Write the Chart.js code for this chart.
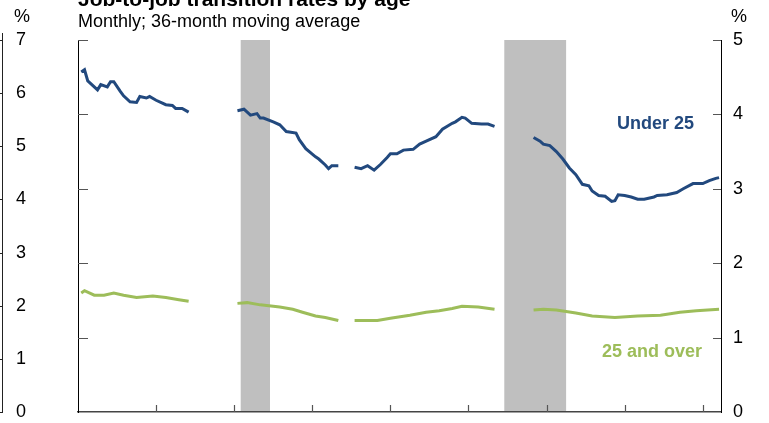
<!DOCTYPE html>
<html>
<head>
<meta charset="utf-8">
<script src="https://cdn.jsdelivr.net/npm/chart.js@4.4.0/dist/chart.umd.min.js"></script>
<style>
  html, body { margin: 0; padding: 0; background: #fff; }
  canvas { display: block; }
</style>
</head>
<body>
<canvas id="jobChart" width="769" height="423"></canvas>
<script>
// ---------- Data ----------
var titleText = "Job-to-job transition rates by age";
var subtitleText = "Monthly; 36-month moving average";

var under25Months = ["1997-02","1997-03","1997-04","1997-07","1997-08","1997-10","1997-11","1997-12",
    "1998-02","1998-03","1998-05","1998-07","1998-08","1998-10","1998-11",
    "1999-01","1999-04","1999-06","1999-07","1999-09","1999-11","2000-06",
    "2001-02","2001-04","2001-06","2001-08","2001-09","2001-10",
    "2002-01","2002-03","2002-05","2002-08","2002-09","2002-11",
    "2003-02","2003-03","2003-05","2003-06","2003-07","2003-09","2003-12",
    "2004-02","2004-04","2004-06","2004-08","2004-10","2004-12",
    "2005-01","2005-03","2005-05","2005-08","2005-10","2005-12",
    "2006-03","2006-05","2006-08","2006-09","2006-11","2006-12",
    "2007-02","2007-05","2007-07","2007-09","2008-03",
    "2008-09","2008-11","2008-12",
    "2009-02","2009-04","2009-06","2009-08","2009-10","2009-12",
    "2010-02","2010-03","2010-05","2010-07","2010-09","2010-10","2010-11",
    "2011-01","2011-03","2011-05","2011-07","2011-10","2011-11",
    "2012-02","2012-05","2012-07","2012-10",
    "2013-01","2013-03","2013-05","2013-06"];
var under25Values = [4.57,4.60,4.45,4.33,4.40,4.37,4.44,4.44,
    4.31,4.25,4.17,4.16,4.24,4.22,4.24,
    4.19,4.13,4.12,4.08,4.08,4.03,null,
    4.05,4.07,3.99,4.01,3.95,3.95,
    3.90,3.86,3.77,3.75,3.66,3.54,
    3.43,3.40,3.32,3.27,3.31,3.31,null,
    3.29,3.27,3.31,3.25,3.33,3.42,
    3.47,3.47,3.52,3.53,3.60,3.64,
    3.70,3.80,3.88,3.90,3.96,3.95,
    3.88,3.87,3.87,3.84,null,
    3.69,3.64,3.60,
    3.58,3.50,3.40,3.28,3.19,3.06,
    3.04,2.97,2.91,2.90,2.83,2.84,2.92,
    2.91,2.89,2.86,2.86,2.89,2.91,
    2.92,2.95,3.00,3.07,
    3.07,3.11,3.14,3.15];

var over25Months = ["1997-02","1997-03","1997-06","1997-09","1997-12","1998-03","1998-07","1998-12",
    "1999-04","1999-08","1999-11","2000-06",
    "2001-02","2001-05","2001-09","2002-03","2002-07","2002-10","2003-02","2003-05","2003-09","2003-12",
    "2004-02","2004-09","2005-01","2005-07","2005-12","2006-04","2006-08","2006-11","2007-04","2007-09","2008-03",
    "2008-09","2008-12","2009-04","2009-10","2010-03","2010-10","2011-05","2011-12","2012-06","2012-11","2013-06"];
var over25Values = [1.60,1.63,1.57,1.57,1.60,1.57,1.54,1.56,
    1.54,1.51,1.49,null,
    1.46,1.47,1.44,1.41,1.38,1.34,1.29,1.27,1.23,null,
    1.23,1.23,1.26,1.30,1.34,1.36,1.39,1.42,1.41,1.38,null,
    1.37,1.38,1.37,1.33,1.29,1.27,1.29,1.30,1.34,1.36,1.38];

// recession periods (first and last month)
var recessions = [["2001-03", "2001-11"], ["2007-12", "2009-06"]];

var rightTickLabels = ["0", "1", "2", "3", "4", "5"];
var leftTickLabels = ["0", "1", "2", "3", "4", "5", "6", "7"];

var startYear = 1997;
var endMonthIndex = 197.6;

var BLUE = "#22497e";
var GREEN = "#9dbd5a";
var FONT = "'Liberation Sans', Arial, sans-serif";

// months since Jan 1997
function monthIndex(s) {
    var p = s.split("-");
    return (parseInt(p[0], 10) - startYear) * 12 + (parseInt(p[1], 10) - 1);
}

function toPoints(months, values) {
    return months.map(function (m, i) {
        return { x: monthIndex(m), y: values[i] };
    });
}

// keep the y axes from reserving extra room for their end labels
function fixAxis(width) {
    return function (s) {
        s.width = width;
        s.paddingTop = 0;
        s.paddingBottom = 0;
    };
}

// ---------- Extra drawing: shading, inward ticks, texts ----------
var decorPlugin = {
    id: "decor",
    beforeDraw: function (chart) {
        var ctx = chart.ctx;
        var area = chart.chartArea;
        var xs = chart.scales.x;
        ctx.save();
        ctx.fillStyle = "#fff";
        ctx.fillRect(0, 0, chart.width, chart.height);
        ctx.fillStyle = "#bfbfbf";
        recessions.forEach(function (r) {
            var x0 = xs.getPixelForValue(monthIndex(r[0]));
            var x1 = xs.getPixelForValue(monthIndex(r[1]) + 1);
            ctx.fillRect(x0, area.top, x1 - x0, area.bottom - area.top);
        });
        ctx.restore();
    },
    afterDraw: function (chart) {
        var ctx = chart.ctx;
        var area = chart.chartArea;
        var xs = chart.scales.x;
        var yr = chart.scales.y;
        var yl = chart.scales.yLeft;
        ctx.save();

        // inward tick marks
        ctx.strokeStyle = "#555";
        ctx.lineWidth = 1.2;
        ctx.beginPath();
        yr.ticks.forEach(function (t) {
            if (t.value === 0) return;
            var py = Math.round(yr.getPixelForValue(t.value)) + 0.5;
            ctx.moveTo(area.left, py);
            ctx.lineTo(area.left + 10, py);
            ctx.moveTo(area.right - 8, py);
            ctx.lineTo(area.right, py);
        });
        xs.ticks.forEach(function (t) {
            if (t.value <= 0) return;
            var px = Math.round(xs.getPixelForValue(t.value)) + 0.5;
            ctx.moveTo(px, area.bottom);
            ctx.lineTo(px, area.bottom - 7);
        });
        ctx.stroke();

        // edge of the neighbouring panel on the far left
        ctx.strokeStyle = "#222";
        ctx.lineWidth = 1;
        ctx.beginPath();
        ctx.moveTo(2.5, area.top - 7);
        ctx.lineTo(2.5, area.bottom + 1);
        yl.ticks.forEach(function (t) {
            var py = Math.round(yl.getPixelForValue(t.value)) + 0.5;
            ctx.moveTo(0, py);
            ctx.lineTo(2.5, py);
        });
        ctx.stroke();

        // title and subtitle
        ctx.fillStyle = "#000";
        ctx.textBaseline = "alphabetic";
        ctx.textAlign = "left";
        ctx.font = "bold 21px " + FONT;
        ctx.fillText(titleText, 78, 6);
        ctx.font = "18px " + FONT;
        ctx.fillText(subtitleText, 78, 27);

        // % units
        ctx.textAlign = "center";
        ctx.textBaseline = "middle";
        ctx.font = "18px " + FONT;
        ctx.fillText("%", 22, 17);
        ctx.fillText("%", 739, 17);

        // series labels
        ctx.textAlign = "left";
        ctx.font = "bold 18px " + FONT;
        ctx.fillStyle = BLUE;
        ctx.fillText("Under 25", 617, 124);
        ctx.fillStyle = GREEN;
        ctx.fillText("25 and over", 602, 352);
        ctx.restore();
    }
};

var ctx = document.getElementById("jobChart").getContext("2d");
new Chart(ctx, {
    type: "line",
    data: {
        datasets: [
            {
                label: "Under 25",
                data: toPoints(under25Months, under25Values),
                borderColor: BLUE,
                borderWidth: 3,
                pointRadius: 0,
                tension: 0,
                spanGaps: false,
                yAxisID: "y"
            },
            {
                label: "25 and over",
                data: toPoints(over25Months, over25Values),
                borderColor: GREEN,
                borderWidth: 3,
                pointRadius: 0,
                tension: 0,
                spanGaps: false,
                yAxisID: "y"
            }
        ]
    },
    options: {
        responsive: false,
        animation: false,
        devicePixelRatio: 1,
        layout: { padding: { left: 16, right: 0, top: 40, bottom: 11 } },
        plugins: {
            legend: { display: false },
            tooltip: { enabled: false },
            title: { display: false }
        },
        scales: {
            x: {
                type: "linear",
                min: 0,
                max: endMonthIndex,
                ticks: { display: false, stepSize: 24, includeBounds: false },
                grid: { display: true, drawOnChartArea: false, drawTicks: false },
                border: { display: true, color: "#444", width: 1.5 }
            },
            y: {
                position: "right",
                min: 0,
                max: 5,
                ticks: {
                    stepSize: 1,
                    padding: 12,
                    color: "#000",
                    font: { family: FONT, size: 18 },
                    callback: function (v) { return rightTickLabels[v]; }
                },
                grid: { display: true, drawOnChartArea: false, drawTicks: false },
                border: { display: true, color: "#000", width: 1 },
                afterFit: fixAxis(48)
            },
            yLeft: {
                position: "left",
                min: 0,
                max: 7,
                ticks: {
                    stepSize: 1,
                    padding: 0,
                    crossAlign: "far",
                    color: "#000",
                    font: { family: FONT, size: 18 },
                    callback: function (v) { return leftTickLabels[v]; }
                },
                grid: { display: true, drawOnChartArea: false, drawTicks: false },
                border: { display: true, color: "#000", width: 1 },
                afterFit: fixAxis(62)
            }
        }
    },
    plugins: [decorPlugin]
});
</script>
</body>
</html>
